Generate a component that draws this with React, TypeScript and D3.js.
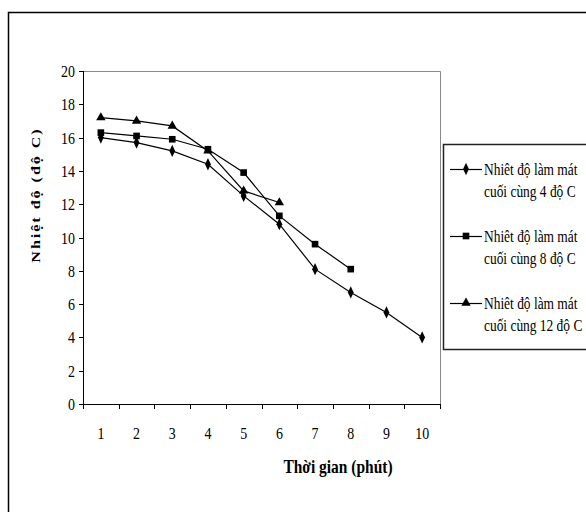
import React, { useRef, useEffect } from 'react';
import * as d3 from 'd3';

const categories = ['1', '2', '3', '4', '5', '6', '7', '8', '9', '10'];
const yTicks = [0, 2, 4, 6, 8, 10, 12, 14, 16, 18, 20];

const cool4 = [16.0, 15.7, 15.2, 14.4, 12.5, 10.8, 8.1, 6.7, 5.5, 4.0];
const cool8 = [16.3, 16.1, 15.9, 15.3, 13.9, 11.3, 9.6, 8.1];
const cool12 = [17.2, 17.0, 16.7, 15.2, 12.8, 12.1];

const seriesNames = [
    ['Nhiêt độ làm mát', 'cuối cùng 4 độ C'],
    ['Nhiêt độ làm mát', 'cuối cùng 8 độ C'],
    ['Nhiêt độ làm mát', 'cuối cùng 12 độ C'],
];
const markers = [d3.symbolDiamond, d3.symbolSquare, d3.symbolTriangle];
const markerSizes = [36, 44, 38];

const FONT = '"Liberation Serif", "Times New Roman", serif';
const SX = 0.82; // the picture is squeezed sideways

const App = () => {
    const ref = useRef<SVGSVGElement>(null);

    useEffect(() => {
        const svg = d3.select(ref.current);
        svg.selectAll('*').remove();

        const left = 83, right = 440, top = 71, bottom = 404;

        const x = d3.scaleBand().domain(categories).range([left, right]).padding(0);
        const y = d3.scaleLinear().domain([0, 20]).range([bottom, top]);
        const cx = (i: number) => (x(categories[i]) as number) + x.bandwidth() / 2;

        const text = (px: number, py: number, s: string, size: number, anchor = 'start', weight = 'normal', sx = SX) =>
            svg.append('text')
                .attr('transform', `translate(${px},${py}) scale(${sx},1)`)
                .attr('text-anchor', anchor)
                .attr('font-family', FONT)
                .attr('font-size', size)
                .attr('font-weight', weight)
                .attr('fill', '#000')
                .text(s);

        // outer chart frame (runs off the page on right and bottom)
        svg.append('rect')
            .attr('x', 8.5).attr('y', 12.5)
            .attr('width', 600).attr('height', 520)
            .attr('fill', 'none')
            .attr('stroke', '#000')
            .attr('stroke-width', 1.5);

        // plot area border (grey top/right)
        svg.append('path')
            .attr('d', `M${left},${top + 0.5}H${right + 0.5}V${bottom}`)
            .attr('fill', 'none')
            .attr('stroke', '#888')
            .attr('stroke-width', 1);

        // y axis
        svg.append('line')
            .attr('x1', left + 0.5).attr('x2', left + 0.5)
            .attr('y1', top).attr('y2', bottom)
            .attr('stroke', '#000');
        yTicks.forEach(t => {
            svg.append('line')
                .attr('x1', left - 4).attr('x2', left)
                .attr('y1', Math.round(y(t)) + 0.5).attr('y2', Math.round(y(t)) + 0.5)
                .attr('stroke', '#000');
            text(75, y(t) + 6, String(t), 17, 'end');
        });

        // x axis
        svg.append('line')
            .attr('x1', left).attr('x2', right + 1)
            .attr('y1', bottom + 0.5).attr('y2', bottom + 0.5)
            .attr('stroke', '#000');
        const bounds = categories.map(c => x(c) as number).concat([right]);
        bounds.forEach(b => {
            svg.append('line')
                .attr('x1', Math.round(b) + 0.5).attr('x2', Math.round(b) + 0.5)
                .attr('y1', bottom).attr('y2', bottom + 5)
                .attr('stroke', '#000');
        });
        categories.forEach((c, i) => {
            text(cx(i), 439, c, 17, 'middle');
        });

        // axis titles
        text(338, 473, 'Thời gian (phút)', 18, 'middle', 'bold', 0.86);
        svg.append('text')
            .attr('transform', `translate(40,195) rotate(-90) scale(1,${SX})`)
            .attr('text-anchor', 'middle')
            .attr('font-family', FONT)
            .attr('font-size', 16)
            .attr('font-weight', 'bold')
            .attr('letter-spacing', 2)
            .text('Nhiệt độ (độ C)');

        // series
        const allSeries = [cool4, cool8, cool12];
        const line = d3.line<number>()
            .x((d, i) => cx(i))
            .y(d => y(d));

        allSeries.forEach(vals => {
            svg.append('path')
                .datum(vals)
                .attr('fill', 'none')
                .attr('stroke', '#000')
                .attr('stroke-width', 1.2)
                .attr('d', line);
        });
        allSeries.forEach((vals, k) => {
            const sym = d3.symbol().type(markers[k]).size(markerSizes[k]);
            vals.forEach((v, i) => {
                svg.append('path')
                    .attr('d', sym)
                    .attr('transform', `translate(${cx(i)},${y(v)})${k === 0 ? ' scale(0.9,1.1)' : ''}`)
                    .attr('fill', '#000');
            });
        });

        // legend
        svg.append('rect')
            .attr('x', 443.5).attr('y', 144.5)
            .attr('width', 200).attr('height', 205)
            .attr('fill', '#fff')
            .attr('stroke', '#222')
            .attr('stroke-width', 1.5);
        const rows = [169, 236, 303];
        seriesNames.forEach((name, k) => {
            const ry = rows[k];
            svg.append('line')
                .attr('x1', 450).attr('x2', 482)
                .attr('y1', ry + 0.5).attr('y2', ry + 0.5)
                .attr('stroke', '#000')
                .attr('stroke-width', 1.2);
            const sym = d3.symbol().type(markers[k]).size(markerSizes[k]);
            svg.append('path')
                .attr('d', sym)
                .attr('transform', `translate(466,${ry})${k === 0 ? ' scale(0.9,1.1)' : ''}`)
                .attr('fill', '#000');
            text(484, ry + 6, name[0], 17, 'start', 'normal', 0.79);
            text(484, ry + 28, name[1], 17, 'start', 'normal', 0.79);
        });
    }, []);

    return (
        <svg ref={ref} width={586} height={512}
            style={{ position: 'absolute', left: 0, top: 0, background: '#fff' }} />
    );
};

export default App;
